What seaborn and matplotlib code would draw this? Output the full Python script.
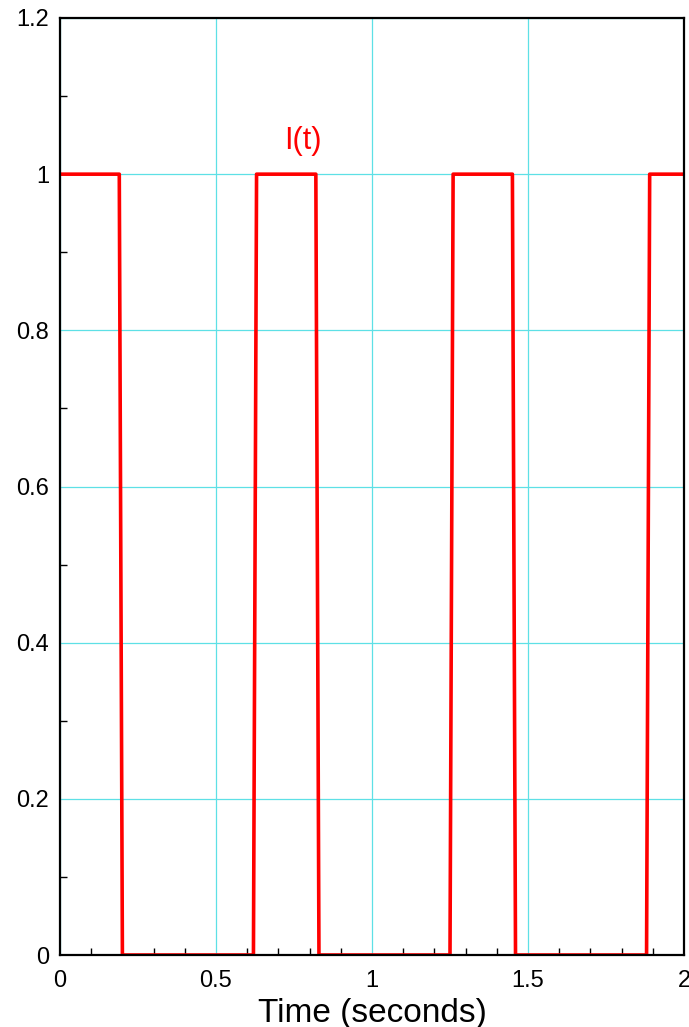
import pandas as pd
import seaborn as sns
import matplotlib.pyplot as plt
from matplotlib.ticker import MultipleLocator

# pulse train (edges take ~0.01 s)
time_s = [0.0, 0.19, 0.20, 0.62, 0.63, 0.82, 0.83, 1.25, 1.26, 1.45, 1.46, 1.88, 1.89, 2.0]
current = [1, 1, 0, 0, 1, 1, 0, 0, 1, 1, 0, 0, 1, 1]

x_ticks = [0, 0.5, 1, 1.5, 2]
x_tick_labels = ['0', '0.5', '1', '1.5', '2']
y_ticks = [0, 0.2, 0.4, 0.6, 0.8, 1, 1.2]
y_tick_labels = ['0', '0.2', '0.4', '0.6', '0.8', '1', '1.2']

sns.set_style('white')
plt.rcParams['font.family'] = ['Liberation Sans', 'DejaVu Sans']
plt.rcParams['text.color'] = 'black'
plt.rcParams['axes.labelcolor'] = 'black'
plt.rcParams['xtick.color'] = 'black'
plt.rcParams['ytick.color'] = 'black'

df = pd.DataFrame({'t': time_s, 'I': current})

fig = plt.figure(figsize=(6.89, 10.27), dpi=100)
ax = fig.add_axes([60 / 689, 72 / 1027, 624 / 689, 937 / 1027])

sns.lineplot(data=df, x='t', y='I', ax=ax, estimator=None, sort=False,
             color='#ff0000', linewidth=2.6, zorder=3)

ax.set_xlim(0, 2)
ax.set_ylim(0, 1.2)
ax.set_xticks(x_ticks)
ax.set_xticklabels(x_tick_labels)
ax.set_yticks(y_ticks)
ax.set_yticklabels(y_tick_labels)
ax.xaxis.set_minor_locator(MultipleLocator(0.1))
ax.yaxis.set_minor_locator(MultipleLocator(0.1))

ax.grid(True, which='major', color='#5ee0e6', linewidth=0.9)
ax.tick_params(which='both', direction='in', bottom=True, left=True,
               top=False, right=False, labelsize=17, labelcolor='black')
ax.tick_params(which='major', length=0, pad=8)
ax.tick_params(axis='x', which='major', pad=11)
ax.tick_params(which='minor', length=5, width=1, color='black')

for sp in ax.spines.values():
    sp.set_color('black')
    sp.set_linewidth(1.6)
    sp.set_zorder(4)

ax.set_xlabel('Time (seconds)', fontsize=24, labelpad=4, color='black')
ax.set_ylabel('')
ax.text(0.78, 1.043, 'I(t)', color='#ff0000', fontsize=22, ha='center', va='center')

fig.savefig('out.png', dpi=100)
